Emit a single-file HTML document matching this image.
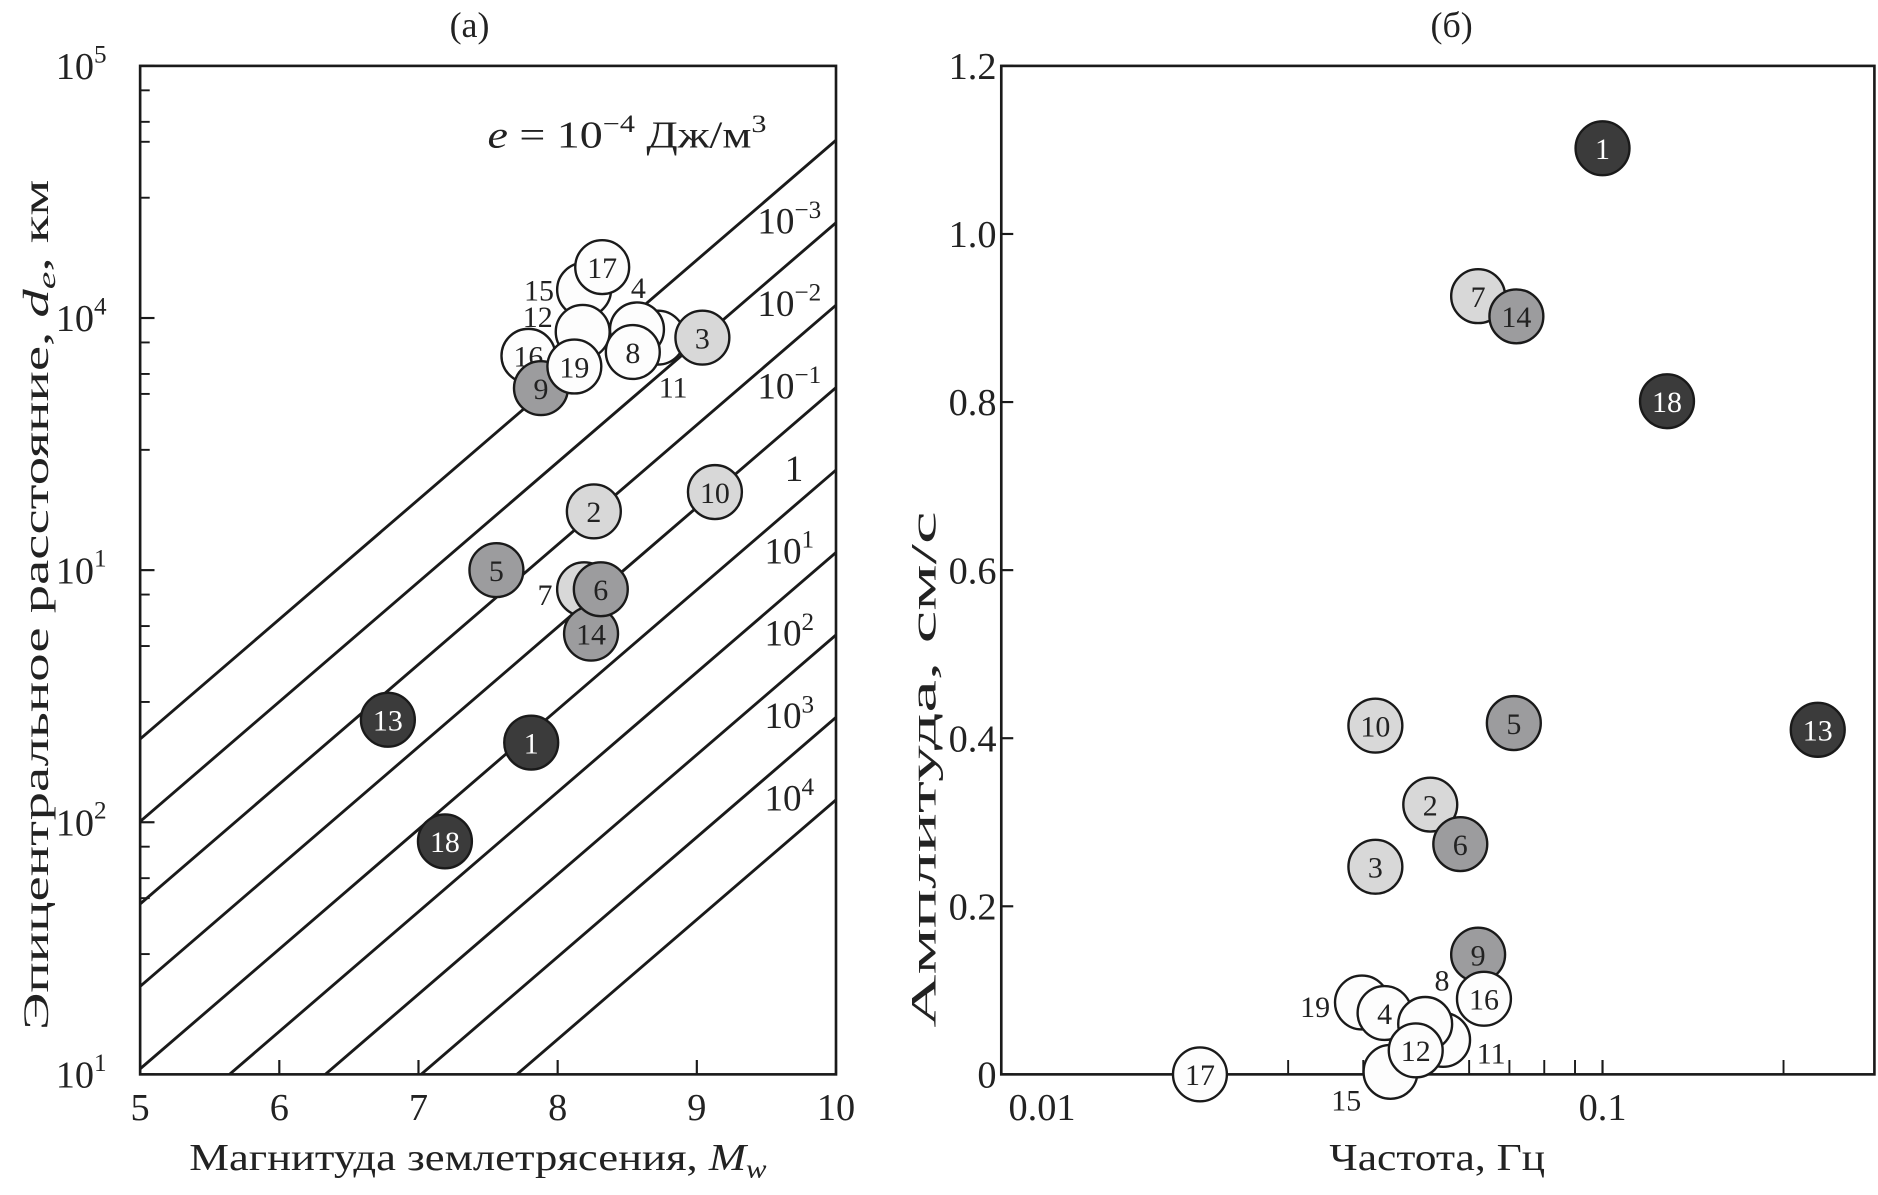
<!DOCTYPE html>
<html><head><meta charset="utf-8">
<style>
html,body{margin:0;padding:0;background:#fff;width:1878px;height:1195px;overflow:hidden;}
svg{display:block;font-family:"Liberation Serif","DejaVu Serif",serif;}
</style></head>
<body>
<svg id="chart" width="1878" height="1195" viewBox="0 0 1568 997.7" xmlns="http://www.w3.org/2000/svg">
<text x="392" y="31" font-size="30" text-anchor="middle" fill="#222">(а)</text>
<text x="1212" y="31" font-size="30" text-anchor="middle" fill="#222">(б)</text>
<g id="pa"></g>
<g id="pb"></g>
</svg>
<script>
// ---- Panel (a) data ----
const aIds    = [15, 17, 12, 11, 4, 8, 3, 16, 9, 19, 2, 10, 5, 7, 14, 6, 13, 1, 18];
const aMag    = [8.19, 8.32, 8.18, 8.72, 8.57, 8.54, 9.04, 7.79, 7.88, 8.12, 8.26, 9.13, 7.56, 8.19, 8.24, 8.31, 6.78, 7.81, 7.19];
const aDist   = [12940, 15920, 8810, 8360, 9010, 7330, 8360, 7080, 5270, 6420, 1710, 2040, 1000, 840, 560, 840, 255, 207, 84];
const energyExp = [-4, -3, -2, -1, 0, 1, 2, 3, 4];
const energyBase = ["", "10", "10", "10", "1", "10", "10", "10", "10"];
const energySup  = ["", "−3", "−2", "−1", "", "1", "2", "3", "4"];
const aXTicks = [5, 6, 7, 8, 9, 10];
const aYTickExp = [1, 2, 3, 4, 5];
const aYTickSup = ["1", "2", "1", "4", "5"];
// line model: log d = 4.705 + 0.475*(M-10) - 0.327*(log e + 4)
const lineIntercept = 4.705, lineSlope = 0.475, lineStep = 0.327;

// ---- Panel (b) data ----
const bIds  = [1, 7, 14, 18, 10, 5, 13, 2, 6, 3, 9, 16, 19, 4, 11, 8, 15, 12, 17];
const bFreq = [0.1, 0.0621, 0.0719, 0.128, 0.0419, 0.0712, 0.228, 0.0517, 0.058, 0.0419, 0.0621, 0.0635, 0.0398, 0.0434, 0.0543, 0.0507, 0.0444, 0.0489, 0.0214];
const bAmp  = [1.102, 0.926, 0.902, 0.801, 0.415, 0.418, 0.410, 0.321, 0.274, 0.247, 0.1425, 0.090, 0.0855, 0.073, 0.041, 0.060, 0.003, 0.0285, 0];
const bYTicks = [0, 0.2, 0.4, 0.6, 0.8, 1.0, 1.2];
const bYTickLabels = ["0", "0.2", "0.4", "0.6", "0.8", "1.0", "1.2"];

const darkSet = [1, 13, 18], graySet = [5, 6, 9, 14], lightSet = [2, 3, 7, 10];
const aOutside = {15:[450,251], 4:[533,249], 12:[449,273], 11:[562,332], 7:[455,505]};
const bOutside = {8:[1204,827], 19:[1098,849], 11:[1245,888], 15:[1124,927]};

const NS = "http://www.w3.org/2000/svg";
function mk(tag, attrs, parent){const e=document.createElementNS(NS,tag);for(const k in attrs)e.setAttribute(k,attrs[k]);parent.appendChild(e);return e;}
function fillOf(id){if(darkSet.includes(id))return "#3b3b3b";if(graySet.includes(id))return "#9c9c9e";if(lightSet.includes(id))return "#d8d8d8";return "#fdfdfd";}
function txtCol(id){return darkSet.includes(id)?"#fff":"#222";}

// ---- Panel (a) ----
const pa = document.getElementById("pa");
const aL=117, aR=698, aT=55, aB=897;
const ax = m => aL + (m-5)*(aR-aL)/5;
const ay = lg => aB - (lg-1)*(aB-aT)/4;
let cp = mk("clipPath",{id:"clipA"},pa); mk("rect",{x:aL,y:aT,width:aR-aL,height:aB-aT},cp);
const lines = mk("g",{"clip-path":"url(#clipA)"},pa);
energyExp.forEach((ex,i)=>{
  const f = m => lineIntercept + lineSlope*(m-10) - lineStep*(ex+4);
  const l = mk("line",{x1:ax(4),y1:ay(f(4)),x2:ax(10),y2:ay(f(10)),stroke:"#1a1a1a","stroke-width":2.4},lines);
  
  
  if(energyBase[i]){
    const t = mk("text",{x:energySup[i]?659:663,y:ay(f(10))+9,"font-size":31,"text-anchor":"middle",fill:"#222"},pa);
    t.innerHTML = energyBase[i] + (energySup[i]?'<tspan dy="-13" font-size="21">'+energySup[i]+'</tspan>':'');
    
    
  }
});
let et = mk("text",{x:407,y:123,"font-size":32,fill:"#222",textLength:233,lengthAdjust:"spacingAndGlyphs"},pa);
et.innerHTML = '<tspan font-style="italic">e</tspan> = 10<tspan dy="-13" font-size="21">−4</tspan><tspan dy="13"> Дж/м</tspan><tspan dy="-13" font-size="21">3</tspan>';


mk("rect",{x:aL,y:aT,width:aR-aL,height:aB-aT,fill:"none",stroke:"#1a1a1a","stroke-width":2.2},pa);
aXTicks.forEach(v=>{
  mk("line",{x1:ax(v),y1:aB,x2:ax(v),y2:aB-12,stroke:"#1a1a1a","stroke-width":1.8},pa);
  const t=mk("text",{x:ax(v),y:aB+38,"font-size":32,"text-anchor":"middle",fill:"#222"},pa);
  t.textContent=v;
  
  
});
aYTickExp.forEach((e,i)=>{
  mk("line",{x1:aL,y1:ay(e),x2:aL+12,y2:ay(e),stroke:"#1a1a1a","stroke-width":1.8},pa);
  const t=mk("text",{x:aL-28,y:ay(e)+11,"font-size":32,"text-anchor":"end",fill:"#222"},pa);
  t.innerHTML='10<tspan dy="-14" font-size="21">'+aYTickSup[i]+'</tspan>';
  
  
  if(e<5)[3,5,6,8].forEach(m=>{const yy=ay(e+Math.log10(m));mk("line",{x1:aL,y1:yy,x2:aL+8,y2:yy,stroke:"#1a1a1a","stroke-width":1.6},pa);});
});
let xt=mk("text",{x:158,y:977,"font-size":32,fill:"#222",textLength:482,lengthAdjust:"spacingAndGlyphs"},pa);
xt.innerHTML='Магнитуда землетрясения, <tspan font-style="italic">M</tspan><tspan font-style="italic" font-size="22" dy="6">w</tspan>';


let yt=mk("text",{x:-860,y:40,"font-size":30,fill:"#222",transform:"rotate(-90)",textLength:710,lengthAdjust:"spacingAndGlyphs"},pa);
yt.innerHTML='Эпицентральное расстояние, <tspan font-style="italic">d</tspan><tspan font-style="italic" font-size="21" dy="6">e</tspan><tspan dy="-6">, км</tspan>';


aIds.forEach((id,i)=>{
  const cx=ax(aMag[i]), cy=ay(Math.log10(aDist[i]));
  const c=mk("circle",{cx:cx,cy:cy,r:22.5,fill:fillOf(id),stroke:"#1a1a1a","stroke-width":2},pa);
  
  
  const pos=aOutside[id];
  const t=mk("text",{x:pos?pos[0]:cx,y:pos?pos[1]:cy+9,"font-size":25,"text-anchor":"middle",fill:pos?"#222":txtCol(id)},pa);
  t.textContent=id;
  
  
});

// ---- Panel (b) ----
const pb=document.getElementById("pb");
const bL=836, bR=1565, bT=55, bB=897;
const bx = f => bL + (Math.log10(f)+2)*502;
const by = a => bB - a*(bB-bT)/1.2;
mk("rect",{x:bL,y:bT,width:bR-bL,height:bB-bT,fill:"none",stroke:"#1a1a1a","stroke-width":2.2},pb);
[0.01,0.1].forEach((v,i)=>{
  mk("line",{x1:bx(v),y1:bB,x2:bx(v),y2:bB-12,stroke:"#1a1a1a","stroke-width":1.8},pb);
  const t=mk("text",{x:bx(v)+(i===0?34:0),y:bB+38,"font-size":32,"text-anchor":"middle",fill:"#222"},pb);
  t.textContent=["0.01","0.1"][i];
  
  
});
[0.02,0.03,0.04,0.05,0.06,0.07,0.08,0.09,0.2].forEach(v=>{
  mk("line",{x1:bx(v),y1:bB,x2:bx(v),y2:bB-12,stroke:"#1a1a1a","stroke-width":1.6},pb);
});
bYTicks.forEach((v,i)=>{
  mk("line",{x1:bL,y1:by(v),x2:bL+10,y2:by(v),stroke:"#1a1a1a","stroke-width":1.8},pb);
  const t=mk("text",{x:bL-4,y:by(v)+11,"font-size":32,"text-anchor":"end",fill:"#222"},pb);
  t.textContent=bYTickLabels[i];
  
  
});
let xt2=mk("text",{x:1110,y:977,"font-size":32,fill:"#222",textLength:180,lengthAdjust:"spacingAndGlyphs"},pb);
xt2.textContent='Частота, Гц';


let yt2=mk("text",{x:-858,y:781,"font-size":30,fill:"#222",transform:"rotate(-90)",textLength:431,lengthAdjust:"spacingAndGlyphs"},pb);
yt2.textContent='Амплитуда, см/с';


bIds.forEach((id,i)=>{
  const cx=bx(bFreq[i]), cy=by(bAmp[i]);
  const c=mk("circle",{cx:cx,cy:cy,r:22.5,fill:fillOf(id),stroke:"#1a1a1a","stroke-width":2},pb);
  
  
  const pos=bOutside[id];
  const t=mk("text",{x:pos?pos[0]:cx,y:pos?pos[1]:cy+9,"font-size":25,"text-anchor":"middle",fill:pos?"#222":txtCol(id)},pb);
  t.textContent=id;
  
  
});
</script>
</body></html>
